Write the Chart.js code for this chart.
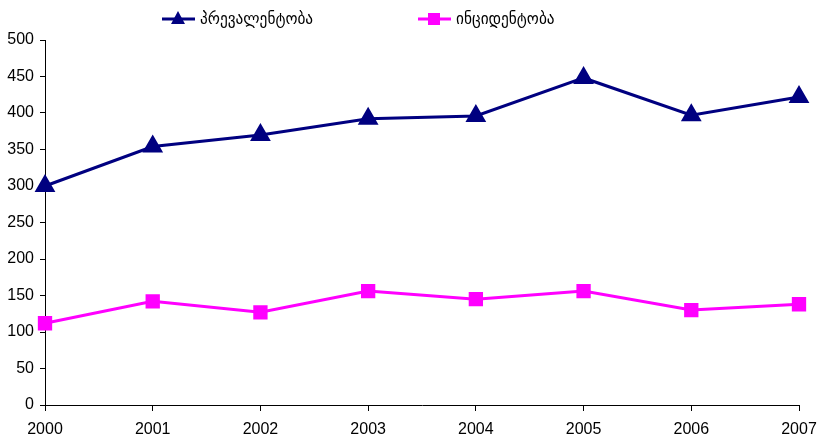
<!DOCTYPE html>
<html>
<head>
<meta charset="utf-8">
<script src="https://cdn.jsdelivr.net/npm/chart.js@4/dist/chart.umd.min.js"></script>
<style>
  html, body { margin: 0; padding: 0; background: #fff; }
  #wrap { width: 818px; height: 445px; }
</style>
</head>
<body>
<div id="wrap"><canvas id="c"></canvas></div>
<script>
// values
const years = ['2000', '2001', '2002', '2003', '2004', '2005', '2006', '2007'];
const prevalence = [300, 354, 370, 392, 396, 448, 397, 422];
const incidence = [112, 142, 127, 156, 145, 156, 130, 138];
const seriesNames = ['პრევალენტობა', 'ინციდენტობა'];

const FONT = "'Liberation Sans Narrow', 'Arial Narrow', 'Liberation Sans', Arial, sans-serif";

// legend drawn as line + marker, like the original
const lineLegend = {
  id: 'lineLegend',
  afterDraw(chart) {
    const ctx = chart.ctx;
    const spots = [162, 418];
    chart.data.datasets.forEach((ds, i) => {
      const x = spots[i], y = 19;
      ctx.save();
      ctx.strokeStyle = ds.borderColor;
      ctx.lineWidth = 3;
      ctx.beginPath();
      ctx.moveTo(x, y);
      ctx.lineTo(x + 33, y);
      ctx.stroke();
      ctx.fillStyle = ds.borderColor;
      const cx = x + 16;
      ctx.beginPath();
      if (ds.pointStyle === 'triangle') {
        ctx.moveTo(cx, y - 8);
        ctx.lineTo(cx + 7, y + 5);
        ctx.lineTo(cx - 7, y + 5);
      } else {
        ctx.rect(cx - 6, y - 6, 12, 12);
      }
      ctx.fill();
      ctx.fillStyle = '#000';
      ctx.font = "17px 'DejaVu Sans Condensed', 'DejaVu Sans', sans-serif";
      ctx.textBaseline = 'middle';
      ctx.fillText(ds.label, x + 38, y + 1);
      ctx.restore();
    });
  }
};

new Chart(document.getElementById('c'), {
  type: 'line',
  data: {
    labels: years,
    datasets: [
      {
        label: seriesNames[0],
        data: prevalence,
        borderColor: '#000080',
        backgroundColor: '#000080',
        borderWidth: 3,
        pointStyle: 'triangle',
        pointRadius: 9,
        pointHoverRadius: 9,
        tension: 0,
      },
      {
        label: seriesNames[1],
        data: incidence,
        borderColor: '#FF00FF',
        backgroundColor: '#FF00FF',
        borderWidth: 3,
        pointStyle: 'rect',
        pointRadius: 8,
        pointHoverRadius: 8,
        tension: 0,
      }
    ]
  },
  options: {
    responsive: true,
    maintainAspectRatio: false,
    animation: false,
    layout: { padding: { top: 40, right: 19, left: 0, bottom: 0 } },
    plugins: {
      legend: { display: false },
      tooltip: { enabled: false }
    },
    scales: {
      x: {
        offset: false,
        afterFit: s => { s.height = 40; s.paddingRight = 0; s.paddingLeft = 0; },
        border: { color: '#000', width: 1 },
        grid: { drawOnChartArea: false, color: '#000', tickLength: 6 },
        ticks: { color: '#000', font: { family: FONT, size: 16 }, padding: 9, maxRotation: 0 }
      },
      y: {
        min: 0,
        max: 500,
        afterFit: s => { s.width = 45; },
        border: { color: '#000', width: 1 },
        grid: { drawOnChartArea: false, color: '#000', tickLength: 5 },
        ticks: { stepSize: 50, color: '#000', font: { family: FONT, size: 16 }, padding: 6 }
      }
    }
  },
  plugins: [lineLegend]
});
</script>
</body>
</html>
